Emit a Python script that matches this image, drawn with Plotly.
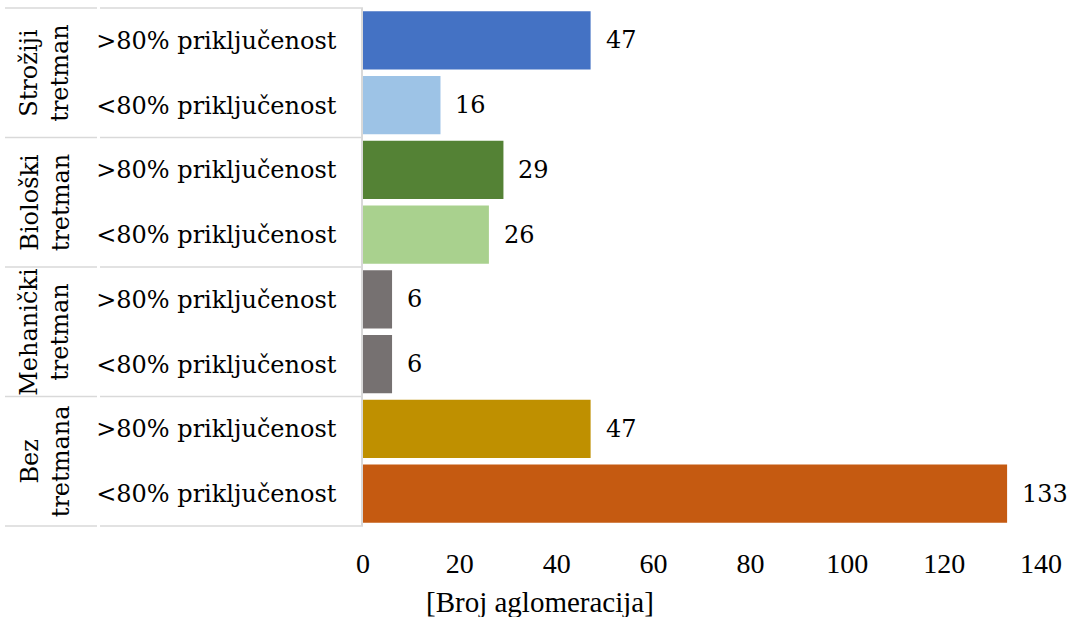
import plotly.graph_objects as go

groups = ["Strožiji<br>tretman", "Biološki<br>tretman", "Mehanički<br>tretman", "Bez<br>tretmana"]
subcats = [">80% priključenost", "<80% priključenost"]
values = [47, 16, 29, 26, 6, 6, 47, 133]
colors = ["#4472C4", "#9DC3E6", "#548235", "#A9D18E", "#767171", "#767171", "#BF9000", "#C55A11"]
x_ticks = [0, 20, 40, 60, 80, 100, 120, 140]
x_title = "[Broj aglomeracija]"

ids = []
labels = []
for g in groups:
    for s in subcats:
        ids.append(g.replace("<br>", " ") + " | " + s)
        labels.append(s)

W, H = 1070, 617
L, R, T, B = 363, 29, 8, 91
pw = W - L - R
ph = H - T - B

FONT = "DejaVu Serif"
FONT2 = "Liberation Serif"
fig = go.Figure()
fig.add_trace(go.Bar(
    x=values, y=ids, orientation="h",
    marker=dict(color=colors, line=dict(width=0)),
    width=0.9, hoverinfo="x+y",
))

for v, i in zip(values, ids):
    fig.add_annotation(x=v, y=i, xref="x", yref="y", text=str(v), showarrow=False,
                       xanchor="left", xshift=13, font=dict(family=FONT, size=24, color="#000"))

shapes = []
def px(xp):
    return (xp - L) / pw

def py(yp):
    return (H - B - yp) / ph

n = len(groups)
for k in range(n + 1):
    yp = 1 - k / n
    shapes.append(dict(type="line", xref="paper", yref="paper", x0=px(5), x1=px(97), y0=yp, y1=yp,
                       line=dict(color="#D9D9D9", width=1.5)))
    shapes.append(dict(type="line", xref="paper", yref="paper", x0=px(100), x1=0, y0=yp, y1=yp,
                       line=dict(color="#D9D9D9", width=1.5)))

for k, g in enumerate(groups):
    yc = 1 - (k + 0.5) / n
    fig.add_annotation(x=px(45), y=yc, xref="paper", yref="paper", text=g, showarrow=False,
                       textangle=-90, xanchor="center", yanchor="middle",
                       font=dict(family=FONT, size=24, color="#000"))

fig.add_annotation(x=px(540), y=py(602), xref="paper", yref="paper", text=x_title, showarrow=False,
                   xanchor="center", yanchor="middle", font=dict(family=FONT2, size=29, color="#000"))

fig.update_layout(
    width=W, height=H,
    margin=dict(l=L, r=R, t=T, b=B, autoexpand=False),
    paper_bgcolor="white", plot_bgcolor="white",
    showlegend=False, bargap=0.1,
    shapes=shapes,
    font=dict(family=FONT, color="#000"),
)
fig.update_yaxes(
    autorange="reversed", tickvals=ids, ticktext=labels, automargin=False,
    tickfont=dict(family=FONT, size=24, color="#000"),
    ticks="", ticklabelstandoff=20, showline=True, linecolor="#D9D9D9", linewidth=1.5,
    showgrid=False, zeroline=False,
)
fig.update_xaxes(
    range=[0, 140], tickvals=x_ticks, ticks="", showgrid=False, zeroline=False, showline=False,
    automargin=False,
    tickfont=dict(family=FONT2, size=28, color="#000"), ticklabelstandoff=18,
)

fig.write_html("out.html", config={"displayModeBar": False},
               post_script="document.body.style.margin='0';document.body.style.padding='0';")
